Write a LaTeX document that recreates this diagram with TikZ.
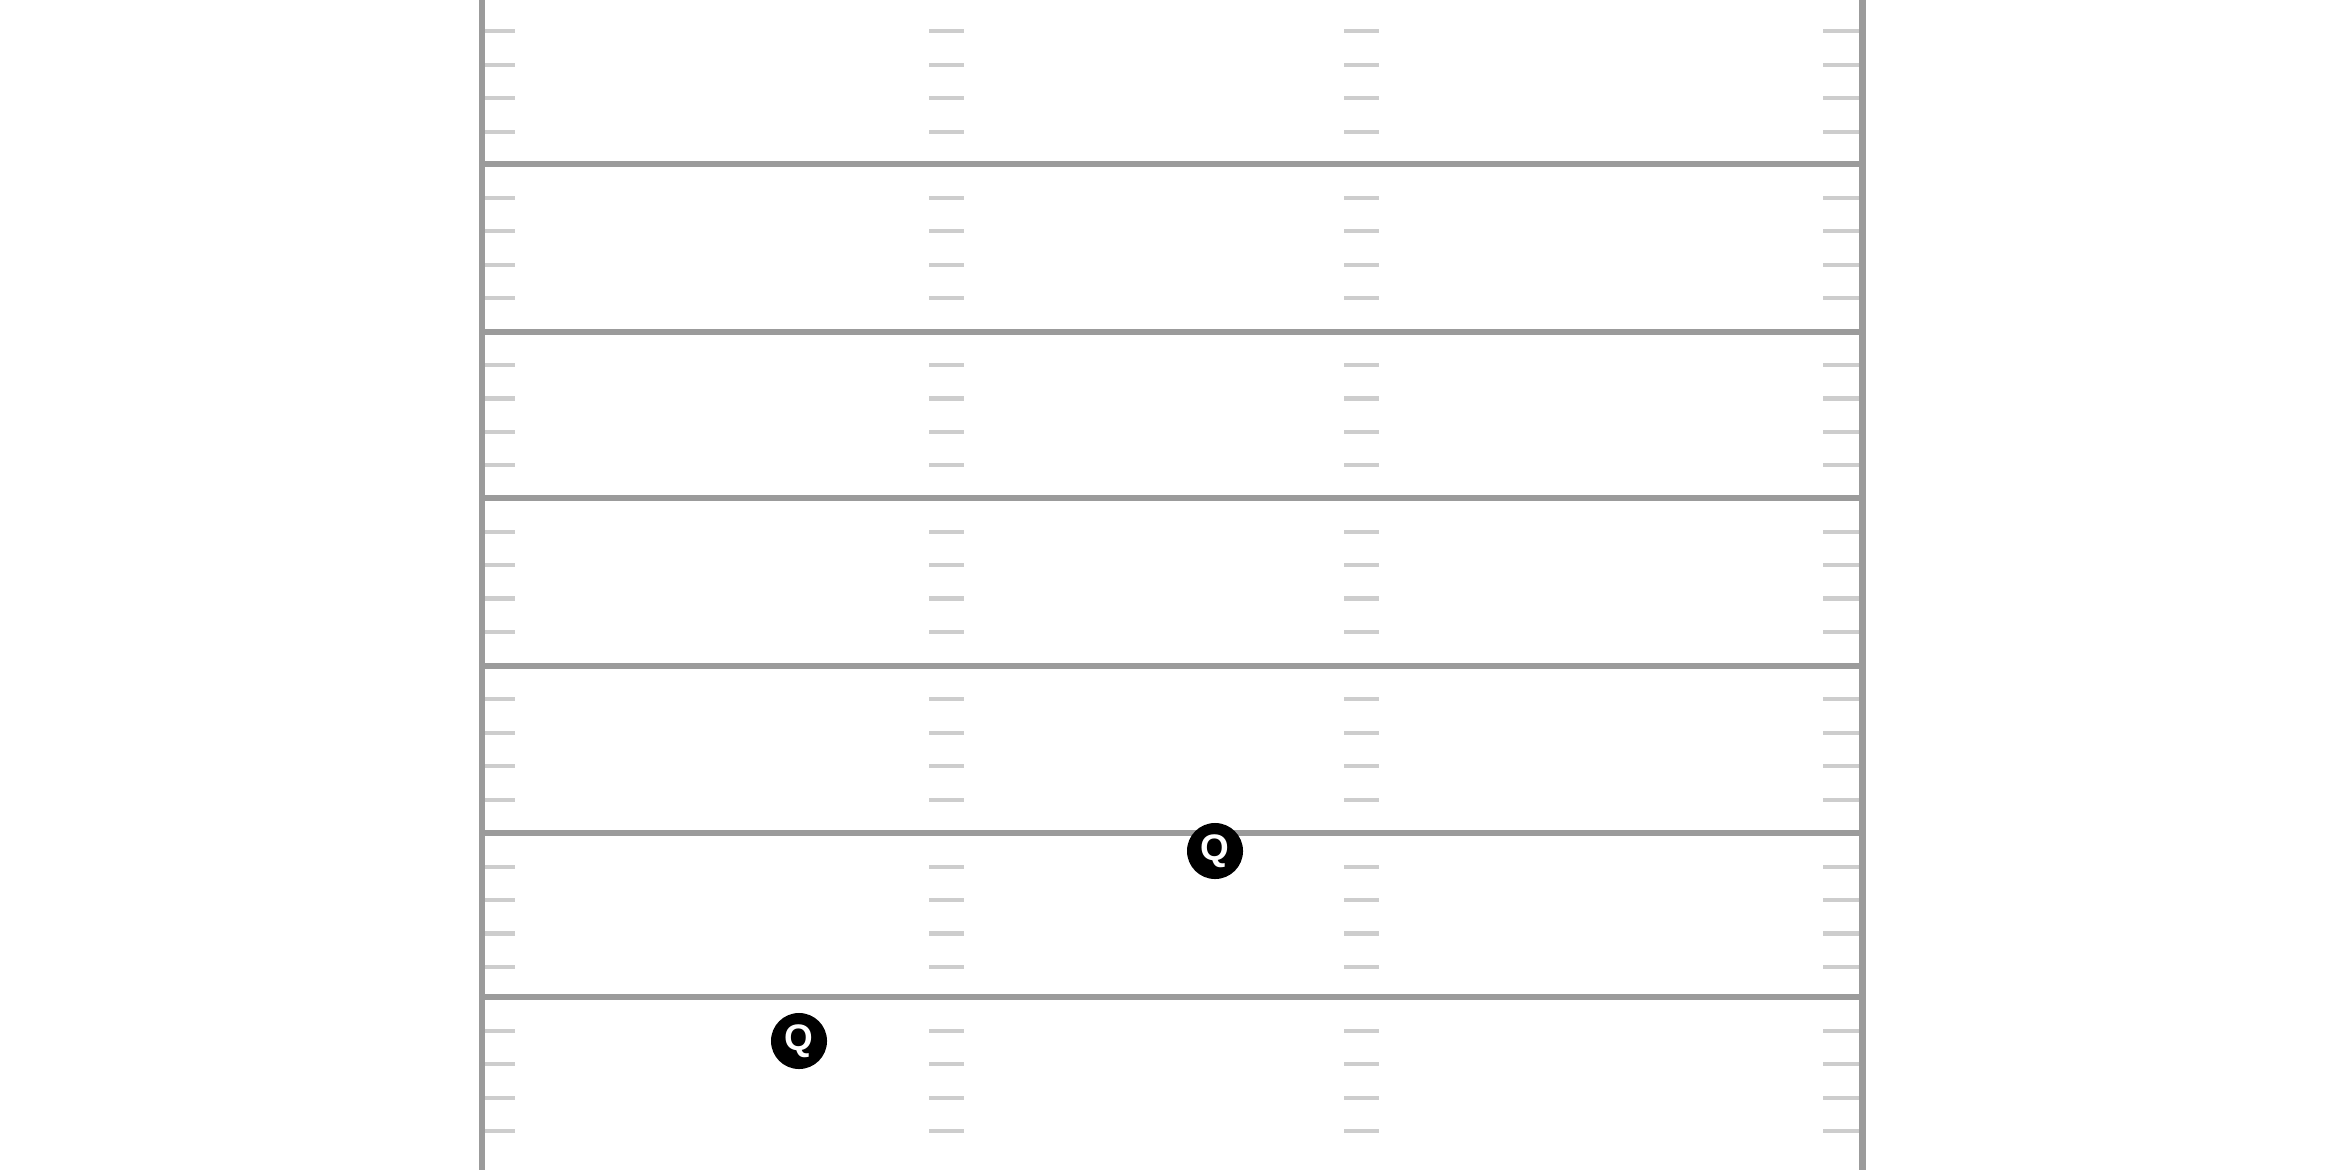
\documentclass[tikz,border=0pt]{standalone}
\usepackage{xcolor}
\usepackage{fontspec}
\setsansfont{Liberation Sans}
\usetikzlibrary{
		positioning
	}
\definecolor{fieldgray}{HTML}{9B9B9B}
\definecolor{hashgray}{HTML}{CDCDCD}
\tikzset{
		yardline/.style={draw=fieldgray, line width=1.75pt},
		hashmark/.style={draw=hashgray, line width=1.15pt},
		player/.style={circle, fill=black, text=white, minimum size=0.56cm,
			inner sep=0pt, font=\sffamily\bfseries\fontsize{10.5}{11}\selectfont}
	}
\begin{document}
\begin{tikzpicture}[x=0.01cm, y=-0.01cm]
          \useasboundingbox (0,0) rectangle (2340,1170);
          \coordinate (TL) at (482,0);
          \coordinate (BL) at (482,1170);
          \coordinate (TR) at (1862.5,0);
          \coordinate (BR) at (1862.5,1170);

          \foreach \top in {-2,164.4,331.7,498.3,666,833.3,997.5}{
            \foreach \j in {1,...,4}{
              \draw[hashmark] (482,\top+33.4*\j) -- ++(33,0);
              \draw[hashmark] (929,\top+33.4*\j) -- ++(35,0);
              \draw[hashmark] (1344,\top+33.4*\j) -- ++(35,0);
              \draw[hashmark] (1823,\top+33.4*\j) -- ++(39,0);
            }
          }
          \foreach \yl in {164.4,331.7,498.3,666,833.3,996.7}
            \draw[yardline] (482,\yl) -- (1862.5,\yl);

          \draw[yardline] (TL) -- (BL);
          \draw[yardline] (TR) -- (BR);

          \node[player] (qbTop) at (1215,851) {Q};
          \node[player] (qbBottom) at (799,1041) {Q};
\end{tikzpicture}
\end{document}
